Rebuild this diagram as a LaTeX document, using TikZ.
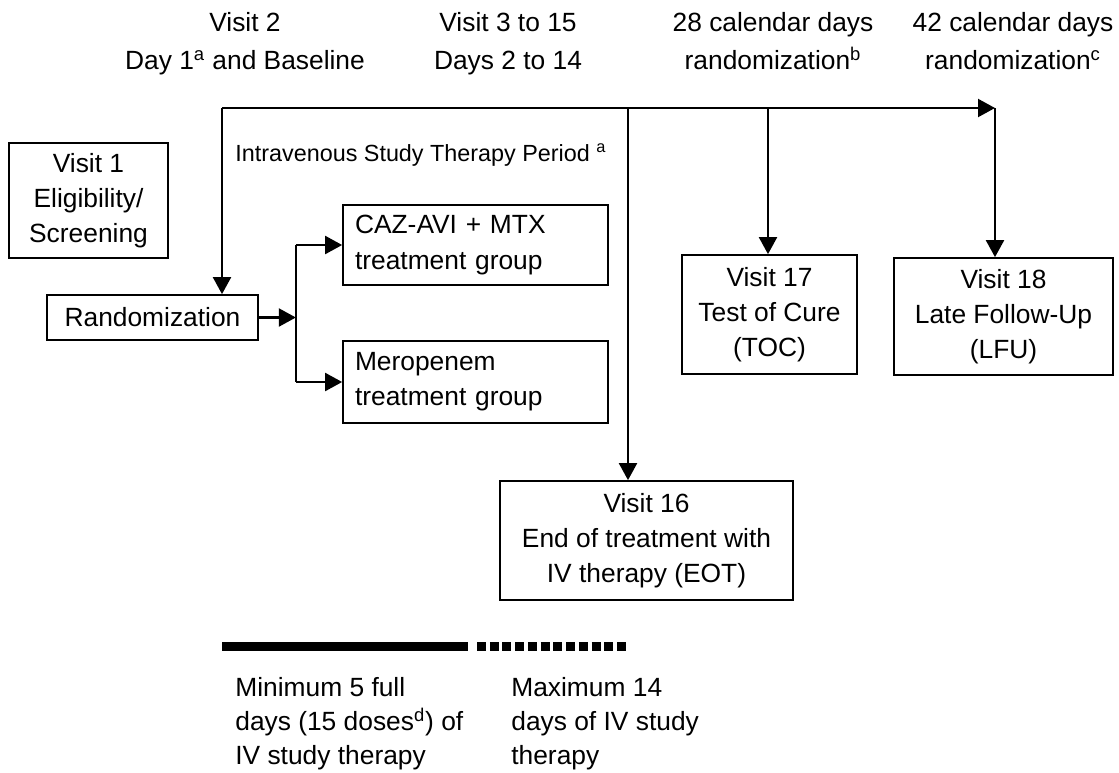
\documentclass[tikz,border=0pt]{standalone}
\usepackage{fontspec}
\setmainfont{Liberation Sans}
\usetikzlibrary{arrows.meta, positioning, calc}

\begin{document}
\begin{tikzpicture}[
  x=0.02cm, y=-0.02cm,
  visitbox/.style={draw, line width=1pt, align=center, font=\fontsize{15}{20}\selectfont, inner sep=0pt},
  armbox/.style={draw, line width=1pt, align=left, font=\fontsize{15}{20}\selectfont, minimum width=5.3cm, text width=4.82cm, inner xsep=0.24cm, inner ysep=0pt},
  headtext/.style={align=center, font=\fontsize{15}{21.5}\selectfont, inner sep=0pt},
  note/.style={align=left, font=\fontsize{15}{19.4}\selectfont, inner sep=0pt},
  arrow/.style={-{Triangle[length=0.34cm, width=0.36cm]}, line width=1.2pt}
]
\useasboundingbox (0,0) rectangle (1119,772);

% header
\node[headtext] (h2) at (245,44) {Visit 2\\Day 1\textsuperscript{a} and Baseline};
\node[headtext] (h3) at (508,44) {Visit 3 to 15\\Days 2 to 14};
\node[headtext] (h28) at (773,41) {28 calendar days\\randomization\textsuperscript{b}};
\node[headtext] (h42) at (1013,41) {42 calendar days\\randomization\textsuperscript{c}};

% boxes
\node[visitbox, minimum width=3.18cm, minimum height=2.3cm] (v1) at (88.5,200.5) {Visit 1\\Eligibility/\\Screening};
\node[visitbox, minimum width=4.22cm, minimum height=0.9cm] (rand) at (152.5,317.5) {Randomization};
\node[armbox, minimum height=1.6cm] (caz) at (475.5,245) {CAZ-AVI + MTX\\treatment group};
\node[armbox, minimum height=1.64cm] (mero) at (475.5,382) {Meropenem\\treatment group};
\node[visitbox, minimum width=3.5cm, minimum height=2.38cm] (v17) at (769.5,314.5) {Visit 17\\Test of Cure\\(TOC)};
\node[visitbox, minimum width=4.38cm, minimum height=2.34cm] (v18) at (1003.5,316.5) {Visit 18\\Late Follow-Up\\(LFU)};
\node[visitbox, minimum width=5.86cm, minimum height=2.38cm] (v16) at (646.5,540.5) {Visit 16\\End of treatment with\\IV therapy (EOT)};
\node[anchor=west, inner sep=0pt, font=\fontsize{13.3}{16}\selectfont] (ivp) at (235,155) {Intravenous Study Therapy Period \textsuperscript{a}};

% timeline
\coordinate (start) at (222,108);
\coordinate (eot) at (628,108);
\coordinate (toc) at (768,108);
\coordinate (lfu) at (995,108);
\draw[arrow] (start) -- (lfu);
\draw[arrow] (start) -- (start |- rand.north);
\draw[arrow] (eot) -- (eot |- v16.north);
\draw[arrow] (toc) -- (toc |- v17.north);
\draw[arrow] (lfu) -- (lfu |- v18.north);

% randomization split
\draw[arrow] (rand.east) -- ++(37,0) coordinate (split);
\draw[line width=1.2pt] (split |- caz.west) -- (split |- mero.west);
\draw[arrow] (split |- caz.west) -- (caz.west);
\draw[arrow] (split |- mero.west) -- (mero.west);

% duration bar
\coordinate (barA) at (222,646);
\coordinate (barB) at (468,646);
\coordinate (barC) at (477,646);
\coordinate (barD) at (628,646);
\draw[line width=0.18cm] (barA) -- (barB);
\draw[line width=0.18cm, dash pattern=on 0.18cm off 0.075cm] (barC) -- (barD);
\node[note, anchor=west] (minnote) at (235,724) {Minimum 5 full\\days (15 doses\textsuperscript{d}) of\\IV study therapy};
\node[note, anchor=west] (maxnote) at (511,724) {Maximum 14\\days of IV study\\therapy};
\end{tikzpicture}
\end{document}
